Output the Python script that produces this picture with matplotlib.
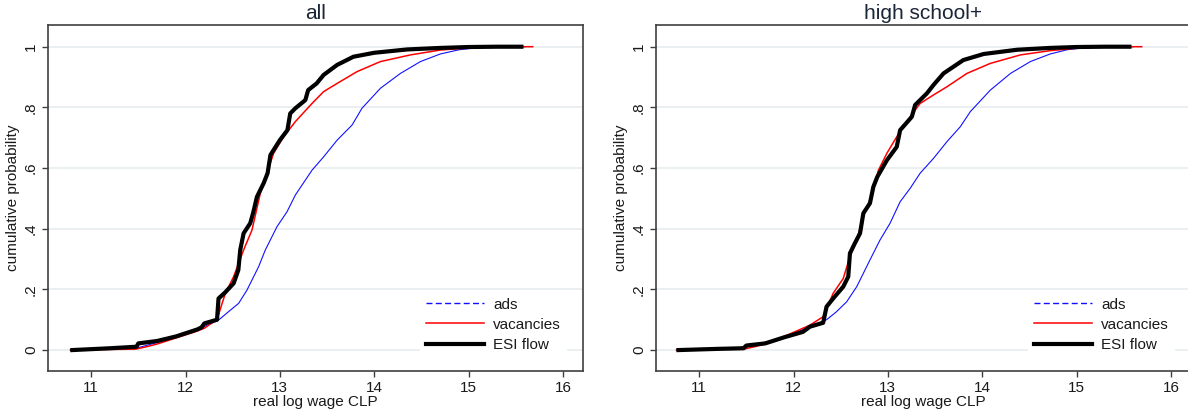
import matplotlib
matplotlib.use("Agg")
import matplotlib.pyplot as plt
from matplotlib.lines import Line2D

plt.rcParams['font.family'] = ['Liberation Sans', 'DejaVu Sans']

# ---- panel "all" ----
all_ads_x = [10.80, 11.20, 11.50, 11.70, 11.95, 12.157, 12.351, 12.45, 12.563, 12.652, 12.775, 12.846,
             12.97, 13.076, 13.164, 13.341, 13.464, 13.607, 13.766, 13.87, 14.066, 14.278, 14.49,
             14.70, 14.90, 15.10, 15.30, 15.60]
all_ads_y = [0.0, 0.003, 0.008, 0.025, 0.048, 0.072, 0.099, 0.125, 0.154, 0.198, 0.275, 0.33,
             0.407, 0.456, 0.511, 0.593, 0.637, 0.692, 0.742, 0.797, 0.863, 0.912, 0.951,
             0.976, 0.99, 0.997, 1.0, 1.0]

all_vac_x = [10.78, 11.20, 11.47, 11.60, 11.70, 11.90, 12.10, 12.20, 12.334, 12.422, 12.51, 12.616,
             12.705, 12.793, 12.864, 12.934, 13.04, 13.164, 13.341, 13.464, 13.607, 13.819,
             14.066, 14.384, 14.70, 15.00, 15.30, 15.68]
all_vac_y = [0.0, 0.002, 0.003, 0.012, 0.02, 0.04, 0.06, 0.072, 0.101, 0.187, 0.242, 0.33,
             0.396, 0.517, 0.583, 0.649, 0.703, 0.753, 0.813, 0.852, 0.879, 0.918,
             0.951, 0.973, 0.989, 0.996, 1.0, 1.0]

all_esi_x = [10.80, 11.20, 11.48, 11.50, 11.70, 11.90, 12.125, 12.17, 12.20, 12.334, 12.35, 12.42,
             12.51, 12.56, 12.58, 12.616, 12.686, 12.72, 12.757, 12.828, 12.87, 12.90, 13.00,
             13.08, 13.11, 13.164, 13.27, 13.30, 13.39, 13.464, 13.607, 13.78, 14.00, 14.35,
             14.70, 15.00, 15.30, 15.56]
all_esi_y = [0.0, 0.006, 0.011, 0.022, 0.03, 0.045, 0.068, 0.075, 0.088, 0.10, 0.17, 0.19,
             0.22, 0.264, 0.33, 0.385, 0.418, 0.456, 0.505, 0.55, 0.583, 0.643, 0.692,
             0.725, 0.78, 0.797, 0.824, 0.857, 0.879, 0.907, 0.94, 0.967, 0.98, 0.991,
             0.996, 0.999, 1.0, 1.0]

# ---- panel "high school+" ----
hs_ads_x = [10.80, 11.20, 11.50, 11.75, 11.96, 12.173, 12.35, 12.45, 12.563, 12.67, 12.81, 12.917,
            13.023, 13.13, 13.236, 13.342, 13.484, 13.626, 13.767, 13.874, 14.086, 14.30,
            14.51, 14.72, 14.90, 15.10, 15.30, 15.60]
hs_ads_y = [0.0, 0.004, 0.01, 0.03, 0.049, 0.077, 0.10, 0.125, 0.159, 0.209, 0.297, 0.363,
            0.418, 0.489, 0.533, 0.583, 0.632, 0.687, 0.736, 0.786, 0.857, 0.912,
            0.951, 0.976, 0.99, 0.997, 1.0, 1.0]

hs_vac_x = [10.76, 11.20, 11.47, 11.60, 11.75, 11.96, 12.173, 12.314, 12.42, 12.527, 12.598, 12.67,
            12.74, 12.81, 12.90, 12.99, 13.094, 13.236, 13.342, 13.484, 13.626, 13.838,
            14.086, 14.405, 14.72, 15.00, 15.30, 15.69]
hs_vac_y = [0.0, 0.002, 0.003, 0.012, 0.025, 0.053, 0.082, 0.11, 0.187, 0.236, 0.308, 0.363,
            0.44, 0.495, 0.593, 0.649, 0.703, 0.769, 0.813, 0.841, 0.868, 0.912,
            0.945, 0.973, 0.987, 0.995, 1.0, 1.0]

hs_esi_x = [10.78, 11.20, 11.47, 11.50, 11.70, 11.90, 12.10, 12.173, 12.314, 12.35, 12.42, 12.527,
            12.58, 12.598, 12.65, 12.705, 12.74, 12.81, 12.846, 12.888, 12.99, 13.094,
            13.13, 13.254, 13.289, 13.413, 13.484, 13.59, 13.80, 14.015, 14.37, 14.72,
            15.00, 15.30, 15.56]
hs_esi_y = [0.0, 0.004, 0.006, 0.015, 0.022, 0.042, 0.06, 0.077, 0.09, 0.143, 0.17, 0.209,
            0.242, 0.319, 0.352, 0.385, 0.451, 0.484, 0.538, 0.571, 0.626, 0.67,
            0.725, 0.769, 0.808, 0.846, 0.874, 0.912, 0.956, 0.976, 0.99, 0.996,
            0.999, 1.0, 1.0]

titles = ["all", "high school+"]
yticks = [0, 0.2, 0.4, 0.6, 0.8, 1.0]
ytick_labels = ["0", ".2", ".4", ".6", ".8", "1"]
xticks = [11, 12, 13, 14, 15, 16]
series_labels = ["ads", "vacancies", "ESI flow"]

panels = [
    (all_ads_x, all_ads_y, all_vac_x, all_vac_y, all_esi_x, all_esi_y),
    (hs_ads_x, hs_ads_y, hs_vac_x, hs_vac_y, hs_esi_x, hs_esi_y),
]

fig = plt.figure(figsize=(11.88, 4.17), dpi=100)
positions = [[0.0402, 0.1103, 0.4503, 0.8297], [0.552, 0.1103, 0.4503, 0.8297]]
frame_col = "#404040"
txt_col = "#1a1a1a"

for i, (ax_x, ax_y, vx, vy, ex, ey) in enumerate(panels):
    ax = fig.add_axes(positions[i])
    ax.set_xlim(10.54, 16.21)
    ax.set_ylim(-0.069, 1.0715)
    for yt in yticks:
        ax.axhline(yt, color="#e6eef0", lw=1.2, zorder=0)
    ax.plot(ax_x, ax_y, color="#1010ff", lw=0.8, zorder=2)
    ax.plot(vx, vy, color="#ff0000", lw=1.1, zorder=3)
    ax.plot(ex, ey, color="black", lw=3.0, zorder=4)

    ax.set_xticks(xticks)
    ax.set_xticklabels([str(t) for t in xticks], fontsize=11, color=txt_col)
    ax.set_yticks(yticks)
    ax.set_yticklabels(ytick_labels, fontsize=11, color=txt_col, rotation=90, va="center")
    ax.tick_params(axis="both", direction="out", length=4, width=1, color=frame_col, pad=3)
    for s in ax.spines.values():
        s.set_color(frame_col)
        s.set_linewidth(1.2)
    if i == 1:
        # right frame falls just outside the picture
        ax.spines["right"].set_visible(False)
    ax.set_xlabel("real log wage CLP", fontsize=11, color=txt_col, labelpad=0)
    ax.set_ylabel("cumulative probability", fontsize=11, color=txt_col, labelpad=3)
    ax.set_title(titles[i], fontsize=15, color="#1a2535", pad=4)

    handles = [
        Line2D([0], [0], color="#1010ff", lw=1.0, linestyle=(0, (4.3, 2.4))),
        Line2D([0], [0], color="#ff0000", lw=1.1),
        Line2D([0], [0], color="black", lw=3.0),
    ]
    leg = ax.legend(handles, series_labels, loc="lower right", bbox_to_anchor=(0.985, 0.015),
                    fontsize=11, frameon=True, fancybox=False, framealpha=1,
                    edgecolor="none", facecolor="white", handlelength=3.8,
                    handletextpad=0.6, labelspacing=0.41, borderpad=0.4)
    for t in leg.get_texts():
        t.set_color(txt_col)
    leg.set_zorder(5)

fig.savefig("out.png", dpi=100)
